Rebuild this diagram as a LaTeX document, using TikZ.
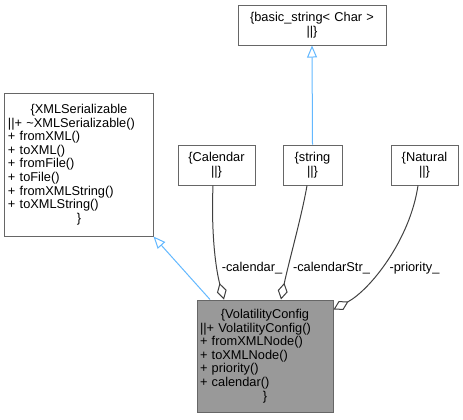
\documentclass[tikz,border=0pt]{standalone}
\usepackage{fontspec}
\setmainfont{Liberation Sans}
\usetikzlibrary{arrows.meta,calc}
\definecolor{boxgray}{HTML}{666666}
\definecolor{hlfill}{HTML}{999999}
\definecolor{inhblue}{HTML}{63B8FF}
\definecolor{edgegray}{HTML}{404040}
\newcommand\ml[1]{\makebox[\linewidth][l]{#1}}
\begin{document}
\begin{tikzpicture}[x=1bp,y=-1bp,
 cls/.style={draw=boxgray, line width=1bp, fill=white, inner xsep=3bp, inner ysep=0pt,
   align=center, font=\fontsize{12.8bp}{13.6bp}\selectfont},
 inh/.style={draw=inhblue, line width=1bp, -{Triangle[open,length=12bp,width=10bp,fill=white]}},
 agg/.style={draw=edgegray, line width=1bp, -{Diamond[open,length=17bp,width=10bp,fill=white]}},
 lbl/.style={font=\fontsize{12.8bp}{13.6bp}\selectfont, inner sep=0pt}]
\useasboundingbox (0,0) rectangle (463,419);

\node[cls, text width=142bp, minimum height=40bp] (basic) at (312,25)
  {\{basic\_string< Char >\\ ||\}};
\node[cls, text width=142bp, minimum height=143bp] (xml) at (79,164.5)
  {\{XMLSerializable\\
   \ml{||+ \textasciitilde XMLSerializable()}\\
   \ml{+ fromXML()}\\
   \ml{+ toXML()}\\
   \ml{+ fromFile()}\\
   \ml{+ toFile()}\\
   \ml{+ fromXMLString()}\\
   \ml{+ toXMLString()}\\
   \}};
\node[cls, text width=71bp, minimum height=40bp] (cal) at (216.5,165) {\{Calendar\\ ||\}};
\node[cls, text width=53bp, minimum height=40bp] (str) at (312.5,165) {\{string\\ ||\}};
\node[cls, text width=61bp, minimum height=40bp] (nat) at (424.5,165) {\{Natural\\ ||\}};
\node[cls, fill=hlfill, text width=130bp, minimum height=112bp] (vc) at (265,356)
  {\{VolatilityConfig\\
   \ml{||+ VolatilityConfig()}\\
   \ml{+ fromXMLNode()}\\
   \ml{+ toXMLNode()}\\
   \ml{+ priority()}\\
   \ml{+ calendar()}\\
   \}};

\draw[inh] (str.north) -- (basic.south);
\draw[inh] ([xshift=-55bp]vc.north) -- (xml.south east);

\draw[agg] ([xshift=-3.5bp]cal.south) .. controls (211,235) and (216,270) .. ([xshift=-41bp]vc.north);
\draw[agg] ([xshift=-5.5bp]str.south) .. controls (302,215) and (288,265) .. ([xshift=16bp]vc.north);
\draw[agg] ([xshift=-6.5bp]nat.south) .. controls (410,240) and (370,290) .. ([yshift=-10bp]vc.north east);

\node[lbl] (lcal) at (252,268) {-calendar\_};
\node[lbl] (lstr) at (331.5,268) {-calendarStr\_};
\node[lbl] (lnat) at (414.5,268) {-priority\_};
\end{tikzpicture}
\end{document}
